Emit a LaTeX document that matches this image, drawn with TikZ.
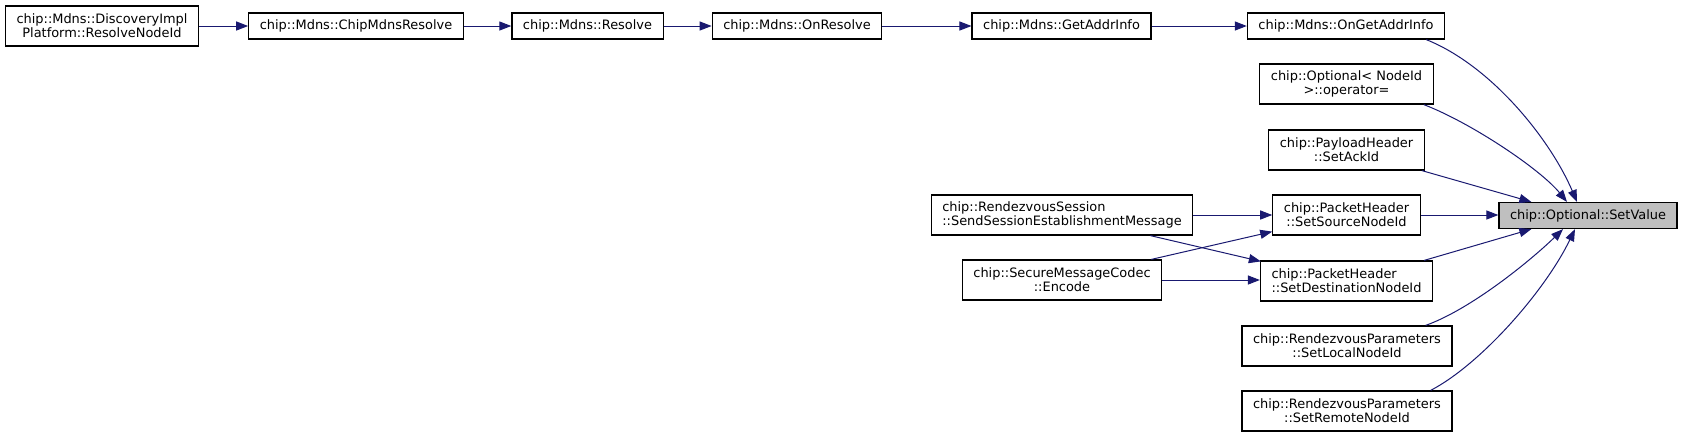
\documentclass[tikz,border=0pt]{standalone}
\usepackage{fontspec}
\setmainfont{DejaVu Sans}
\usetikzlibrary{arrows.meta,positioning,calc}

\begin{document}
\begin{tikzpicture}[
  x=0.75pt, y=-0.75pt,
  fn/.style={
    draw=black, line width=0.9pt, rectangle,
    minimum height=19.5pt, inner xsep=8.3pt, inner ysep=2pt,
    align=center, font=\fontsize{9.7}{10.5}\selectfont
  },
  fntwo/.style={fn, minimum height=30pt},
  fnsel/.style={fn, fill=selgray},
  call/.style={->, >={Triangle[length=9pt,width=6.8pt]},
    draw=navy, line width=0.75pt},
]
\definecolor{navy}{HTML}{191970}
\definecolor{selgray}{HTML}{BFBFBF}
\useasboundingbox (0,0) rectangle (1683,437);

%% top row of callers
\node[fntwo] (disc) at (102,26)
  {chip::Mdns::DiscoveryImpl\\Platform::ResolveNodeId};
\node[fn] (cmr) at (356,26) {chip::Mdns::ChipMdnsResolve};
\node[fn] (res) at (587.5,26) {chip::Mdns::Resolve};
\node[fn] (onr) at (797,26) {chip::Mdns::OnResolve};
\node[fn] (gai) at (1061.5,26) {chip::Mdns::GetAddrInfo};
\node[fn] (ogai) at (1346,26) {chip::Mdns::OnGetAddrInfo};

%% right column
\node[fntwo] (opt) at (1346.5,84) {chip::Optional< NodeId\\>::operator=};
\node[fntwo] (pay) at (1346.5,150) {chip::PayloadHeader\\::SetAckId};
\node[fntwo] (src) at (1346.5,215) {chip::PacketHeader\\::SetSourceNodeId};
\node[fntwo, align=left] (dst) at (1346.5,281)
  {chip::PacketHeader\\::SetDestinationNodeId};
\node[fntwo] (loc) at (1347,346)
  {chip::RendezvousParameters\\::SetLocalNodeId};
\node[fntwo] (rem) at (1347,411)
  {chip::RendezvousParameters\\::SetRemoteNodeId};

%% the selected function
\node[fnsel] (sv) at (1588,215.5) {chip::Optional::SetValue};

%% callers of the packet header
\node[fntwo, align=left] (rs) at (1062,215)
  {chip::RendezvousSession\\::SendSessionEstablishmentMessage};
\node[fntwo] (smc) at (1062,280) {chip::SecureMessageCodec\\::Encode};

%% top row chain
\draw[call] (disc.east) -- (disc.east -| cmr.west);
\draw[call] (cmr) -- (res);
\draw[call] (res) -- (onr);
\draw[call] (onr) -- (gai);
\draw[call] (gai) -- (ogai);

%% into SetValue
\draw[call] ($(ogai.south east)+(-19,0)$)
  .. controls +(65,26) and +(-27,-63) .. ($(sv.north)+(-11,0)$);
\draw[call] ($(opt.south east)+(-10,0)$)
  .. controls +(47,18) and +(-27,-33) .. ($(sv.north)+(-21,0)$);
\draw[call] ($(pay.south east)+(-3,0)$) -- ($(sv.north west)+(33,0)$);
\draw[call] (src.east) -- (src.east -| sv.west);
\draw[call] ($(dst.north east)+(-9,0)$) -- ($(sv.south west)+(33,0)$);
\draw[call] ($(loc.north east)+(-27,0)$)
  .. controls +(45,-16) and +(-33,32) .. ($(sv.south)+(-25,0)$);
\draw[call] ($(rem.north east)+(-22,0)$)
  .. controls +(50,-26) and +(-30,62) .. ($(sv.south)+(-13,0)$);

%% into the packet header setters
\draw[call] (rs.east) -- (rs.east -| src.west);
\draw[call] ($(rs.south east)+(-43,0)$) -- ($(dst.north west)+(1,1)$);
\draw[call] ($(smc.north east)+(-11,0)$) -- ($(src.south west)+(0,-4)$);
\draw[call] (smc.east) -- (smc.east -| dst.west);
\end{tikzpicture}
\end{document}
